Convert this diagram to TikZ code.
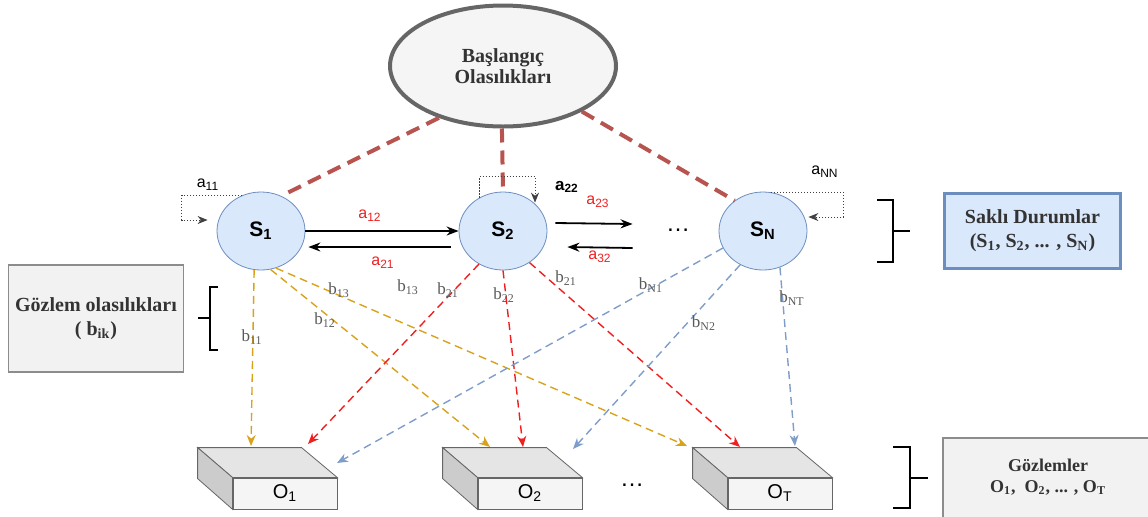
\documentclass[tikz,border=0pt]{standalone}
\usepackage{fontspec}
\setmainfont{Liberation Serif}
\setsansfont{Liberation Sans}
\usetikzlibrary{shapes.geometric,arrows.meta}
\definecolor{stfill}{HTML}{DAE8FC}
\definecolor{stdraw}{HTML}{6C8EBF}
\definecolor{initred}{HTML}{B85450}
\definecolor{emy}{HTML}{D9A21B}
\definecolor{emr}{HTML}{F01F1F}
\definecolor{emb}{HTML}{7F9DC9}
\definecolor{boxgray}{HTML}{F2F2F2}
\definecolor{txtgray}{HTML}{333333}
\tikzset{
  state/.style={ellipse,draw=stdraw,fill=stfill,minimum width=44pt,minimum height=39pt,inner sep=0pt,font=\sffamily\bfseries\fontsize{10.5}{12}\selectfont},
  face/.style={draw=black!60,fill=black!4,minimum width=52pt,minimum height=15.5pt,inner sep=0pt,font=\sffamily\fontsize{10}{12}\selectfont},
  topface/.style={draw=black!60,fill=black!10},
  sideface/.style={draw=black!60,fill=black!20},
  graybox/.style={draw=black!45,fill=boxgray,line width=0.8pt},
  initline/.style={initred,line width=2pt,dash pattern=on 7pt off 4pt},
  emit/.style={->,line width=0.7pt,dash pattern=on 4pt off 2.5pt},
  trans/.style={-{Stealth[length=6pt,width=4.5pt]},line width=0.9pt},
  selfloop/.style={-{Stealth[length=5pt,width=4pt]},line width=0.5pt,dash pattern=on 0.6pt off 0.9pt,black!75},
  alab/.style={font=\sffamily\fontsize{8}{9}\selectfont,inner sep=0pt},
  blab/.style={font=\fontsize{8.5}{9}\selectfont,text=black!65,inner sep=0pt},
  boxtext/.style={font=\bfseries\fontsize{10}{12}\selectfont,text=txtgray,align=center},
  bracket/.style={line width=1pt},
}
\begin{document}
\begin{tikzpicture}[>={Stealth[length=5.5pt,width=4.5pt]}, x=0.5pt, y=-0.5pt]
 \useasboundingbox (0,0) rectangle (1148,516);
 \node[ellipse,draw=black!60,line width=2pt,fill=black!4,minimum width=113pt,minimum height=60.5pt,boxtext,font=\bfseries\fontsize{10}{10.5}\selectfont] (init) at (503,66) {Başlangıç\\Olasılıkları};
 \path (261,231) node[state] (s1) {S\textsubscript{1}}
       (503,231) node[state] (s2) {S\textsubscript{2}}
       (763,231) node[state] (sN) {S\textsubscript{N}};
 \node[font=\sffamily\fontsize{12}{12}\selectfont,minimum width=45pt] (dots) at (678,230) {\dots};
 \draw[initline] (init.-141) -- (s1.60);
 \draw[initline] (init.-91) -- (s2.90);
 \draw[initline] (init.-30) -- (sN.133);
 \foreach \nm/\cx/\txt in {O1/285/1,O2/530/2,OT/780/T}{
   \node[face] (\nm) at (\cx,493.5) {O\textsubscript{\txt}};
   \draw[topface] (\nm.north west) -- ++(-35,-30) -- ++(104,0) -- (\nm.north east) -- cycle;
   \draw[sideface] (\nm.north west) -- ++(-35,-30) -- ++(0,31) -- (\nm.south west) -- cycle;
 }
 \node[font=\sffamily\fontsize{12}{12}\selectfont] (dots2) at (632,485) {\dots};
 \coordinate (o1y) at (251,446); \coordinate (o1r) at (308,444); \coordinate (o1b) at (337,463);
 \coordinate (o2y) at (490,447); \coordinate (o2r) at (523,447); \coordinate (o2b) at (573,449);
 \coordinate (oTy) at (687,446); \coordinate (oTr) at (740,447); \coordinate (oTb) at (795,446);
 \draw[emit,emy] (s1.-100) -- (o1y);
 \draw[emit,emy] (s1.-76) -- (o2y);
 \draw[emit,emy] (s1.-68) -- (oTy);
 \draw[emit,emr] (s2.-126) -- (o1r);
 \draw[emit,emr] (s2.-90) -- (o2r);
 \draw[emit,emr] (s2.-50) -- (oTr);
 \draw[emit,emb] (sN.-157) -- (o1b);
 \draw[emit,emb] (sN.-124) -- (o2b);
 \draw[emit,emb] (sN.-65) -- (oTb);
 \draw[trans] (s1.east) -- (s2.west);
 \draw[trans] ([shift={(-8,16)}]s2.west) -- ([shift={(3,16)}]s1.east);
 \draw[trans] ([shift={(8,-8)}]s2.east) -- ([shift={(0,-6)}]dots.west);
 \draw[trans] ([shift={(0,18)}]dots.west) -- ([shift={(20,16)}]s2.east);
 \draw[selfloop] (s1.118) -| ([shift={(-35,-11)}]s1.west) -- ([shift={(-9,-11)}]s1.west);
 \draw[selfloop] (s2.125) |- ([shift={(32,-15)}]s2.north) -- ([shift={(32,11)}]s2.north);
 \draw[selfloop] (sN.78) -| ([shift={(36,-14)}]sN.east) -- ([shift={(1,-14)}]sN.east);
 \node[alab] (a11) at (208,185) {a\textsubscript{11}};
 \node[alab,font=\sffamily\bfseries\fontsize{8.5}{9}\selectfont] (a22) at (567,187) {a\textsubscript{22}};
 \node[alab] (aNN) at (825,172) {a\textsubscript{NN}};
 \node[alab,text=emr] (a12) at (370,216) {a\textsubscript{12}};
 \node[alab,text=emr] (a21) at (383,263) {a\textsubscript{21}};
 \node[alab,text=emr] (a23) at (598,202) {a\textsubscript{23}};
 \node[alab,text=emr] (a32) at (600,257) {a\textsubscript{32}};
 \node[blab] (b11) at (252,337) {b\textsubscript{11}};
 \node[blab] (b12) at (325,320) {b\textsubscript{12}};
 \node[blab] (b13) at (339,290) {b\textsubscript{13}};
 \node[blab] (b13x) at (408,287) {b\textsubscript{13}};
 \node[blab] (b21) at (448,290) {b\textsubscript{21}};
 \node[blab] (b22) at (504,295) {b\textsubscript{22}};
 \node[blab] (b21x) at (566,278) {b\textsubscript{21}};
 \node[blab] (bN1) at (651,285) {b\textsubscript{N1}};
 \node[blab] (bN2) at (704,323) {b\textsubscript{N2}};
 \node[blab] (bNT) at (792,298) {b\textsubscript{NT}};
 \node[draw=stdraw,fill=stfill,line width=1.5pt,minimum width=88pt,minimum height=37.5pt,boxtext] (hidden) at (1032.5,231) {Saklı Durumlar\\(S\textsubscript{1}, S\textsubscript{2}, ... , S\textsubscript{N})};
 \node[graybox,minimum width=87pt,minimum height=53.5pt,boxtext] (emis) at (96,318.5) {Gözlem olasılıkları\\( b\textsubscript{ik})};
 \node[graybox,minimum width=105pt,minimum height=42pt,inner sep=0pt] (obsbox) at (1048,480) {};
 \node[boxtext,font=\bfseries\fontsize{9}{10.5}\selectfont] (obstext) at (1048,477) {Gözlemler\\O\textsubscript{1}, ~O\textsubscript{2}, ... , O\textsubscript{T}};
 \draw[bracket] (877,200) -- (893,200) -- (893,262) -- (877,262) (893,231) -- (910,231);
 \draw[bracket] (218,287) -- (210,287) -- (210,350) -- (218,350) (210,318) -- (198,318);
 \draw[bracket] (893,447) -- (910,447) -- (910,508) -- (893,508) (910,478) -- (928,478);
\end{tikzpicture}
\end{document}
